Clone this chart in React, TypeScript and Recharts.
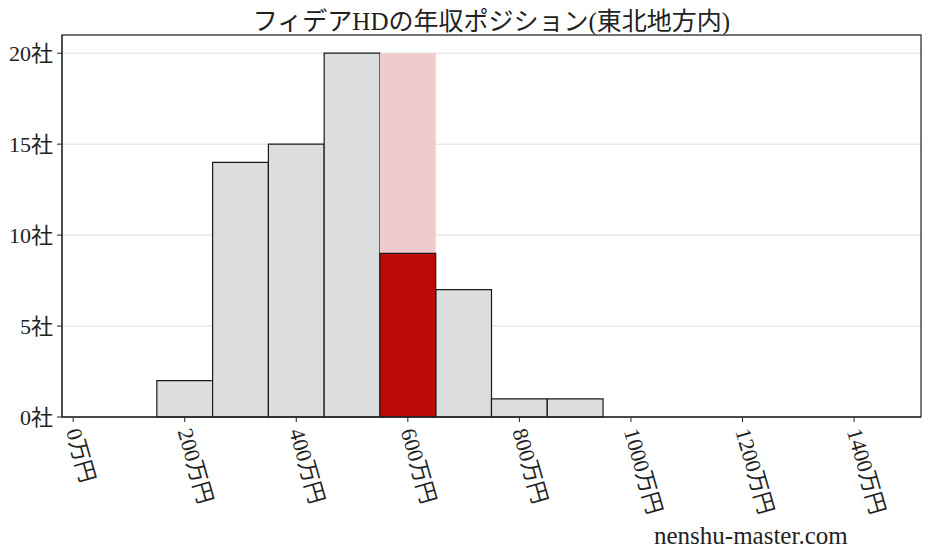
import React from "react";
import {
  ComposedChart,
  Line,
  XAxis,
  YAxis,
  CartesianGrid,
  ReferenceArea,
} from "recharts";

const binStarts = [150, 250, 350, 450, 550, 650, 750, 850];
const counts = [2, 14, 15, 20, 0, 7, 1, 1];
const binWidth = 100;

// highlighted bin (this company's position)
const highlightStart = 550;
const highlightBackground = 20;
const highlightCount = 9;

const xTicks = [0, 200, 400, 600, 800, 1000, 1200, 1400];
const yTicks = [0, 5, 10, 15, 20];

const title = "フィデアHDの年収ポジション(東北地方内)";
const watermark = "nenshu-master.com";

const FONT = "'Liberation Serif', 'DejaVu Serif', 'Noto Sans CJK JP', serif";

const data = binStarts.map((start, i) => ({
  mid: start + binWidth / 2,
  count: counts[i],
}));

function XTick(props: any) {
  const { x, y, payload } = props;
  return (
    <text
      x={x}
      y={y + 5}
      transform={`rotate(74, ${x}, ${y + 5})`}
      textAnchor="start"
      dominantBaseline="central"
      fontSize={22}
      fontFamily={FONT}
      fill="#222"
    >
      {`${payload.value}万円`}
    </text>
  );
}

function YTick(props: any) {
  const { x, y, payload } = props;
  return (
    <text
      x={x - 2}
      y={y}
      textAnchor="end"
      dominantBaseline="central"
      fontSize={22}
      fontFamily={FONT}
      fill="#222"
    >
      {`${payload.value}社`}
    </text>
  );
}

export default function App() {
  return (
    <div style={{ position: "relative", width: 928, height: 557, background: "#fff" }}>
      <style>{`body{margin:0}`}</style>
      <div
        style={{
          position: "absolute",
          left: 0,
          top: 1,
          width: 983,
          textAlign: "center",
          fontSize: 25,
          fontFamily: FONT,
          color: "#222",
          whiteSpace: "nowrap",
        }}
      >
        {title}
      </div>
      <ComposedChart
        width={928}
        height={557}
        data={data}
        margin={{ top: 35, right: 7, bottom: 0, left: 0 }}
      >
        <CartesianGrid vertical={false} stroke="#dddddd" />
        <XAxis
          type="number"
          dataKey="mid"
          domain={[-20, 1520]}
          ticks={xTicks}
          interval={0}
          height={140}
          stroke="#222"
          tickSize={5}
          tick={<XTick />}
          allowDataOverflow
        />
        <YAxis
          type="number"
          domain={[0, 21]}
          ticks={yTicks}
          width={62}
          stroke="#222"
          tickSize={5}
          tick={<YTick />}
          allowDataOverflow
        />
        {binStarts.map((start, i) =>
          counts[i] > 0 ? (
            <ReferenceArea
              key={`bin-${start}`}
              x1={start}
              x2={start + binWidth}
              y1={0}
              y2={counts[i]}
              fill="#dcdddf"
              fillOpacity={1}
              stroke="#1a1a1a"
              strokeWidth={1.2}
            />
          ) : null
        )}
        <ReferenceArea
          x1={highlightStart}
          x2={highlightStart + binWidth}
          y1={0}
          y2={highlightBackground}
          fill="#f0cbcc"
          fillOpacity={1}
          stroke="none"
        />
        <ReferenceArea
          x1={highlightStart}
          x2={highlightStart + binWidth}
          y1={0}
          y2={highlightCount}
          fill="#bf0a0a"
          fillOpacity={1}
          stroke="#1a1a1a"
          strokeWidth={1.2}
        />
        <Line
          dataKey="count"
          stroke="none"
          dot={false}
          activeDot={false}
          isAnimationActive={false}
        />
      </ComposedChart>
      <svg
        width={928}
        height={420}
        style={{ position: "absolute", left: 0, top: 0, pointerEvents: "none" }}
      >
        <rect x={62} y={35} width={859} height={382} fill="none" stroke="#222" strokeWidth={1.2} />
      </svg>
      <div
        style={{
          position: "absolute",
          left: 654,
          top: 522,
          fontSize: 25,
          fontFamily: FONT,
          color: "#222",
          whiteSpace: "nowrap",
        }}
      >
        {watermark}
      </div>
    </div>
  );
}
